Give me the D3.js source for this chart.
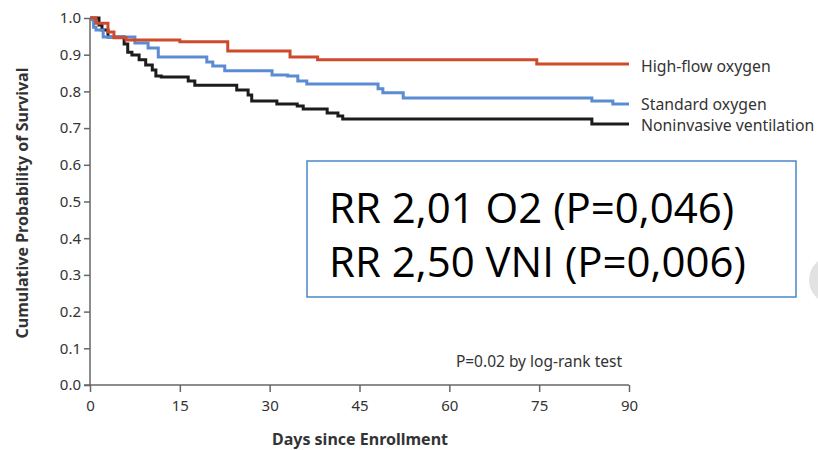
<!DOCTYPE html>
<html><head><meta charset="utf-8">
<script src="https://cdn.jsdelivr.net/npm/d3@7"></script>
<style>body{margin:0;background:#fff;overflow:hidden}</style>
</head><body><svg id="c" width="818" height="450"></svg>
<script>
const seriesNames = ["High-flow oxygen", "Standard oxygen", "Noninvasive ventilation"];
const seriesColors = ["#cf4a2c", "#5b8bd2", "#1c1c1c"];
const highFlowDays = [0, 1, 3, 4, 6, 15, 23, 33.4, 38, 74.6, 90];
const highFlowSurv = [1.0, 0.986, 0.962, 0.946, 0.94, 0.935, 0.91, 0.894, 0.886, 0.875, 0.875];
const standardDays = [0, 0.3, 0.6, 1, 2.2, 7.5, 9.7, 11.4, 19.5, 20.5, 22.5, 30.4, 33, 34.7, 36.2, 48.1, 48.9, 52.3, 83.8, 87.3, 90];
const standardSurv = [1.0, 0.995, 0.975, 0.967, 0.948, 0.932, 0.918, 0.894, 0.88, 0.869, 0.856, 0.845, 0.842, 0.828, 0.82, 0.807, 0.796, 0.782, 0.774, 0.766, 0.766];
const niVentDays = [0, 1.5, 2, 3, 5.7, 6.3, 7, 8.2, 9.3, 10.4, 11, 11.9, 16.4, 17.5, 24.5, 26.4, 27, 31.2, 34.6, 35.6, 39.6, 41.4, 42.2, 83.8, 90];
const niVentSurv = [1.0, 0.981, 0.967, 0.948, 0.929, 0.907, 0.899, 0.886, 0.872, 0.858, 0.842, 0.839, 0.828, 0.817, 0.804, 0.79, 0.774, 0.766, 0.76, 0.752, 0.741, 0.733, 0.725, 0.711, 0.711];
const xTicks = [0, 15, 30, 45, 60, 75, 90];
const yTicks = [0, 0.1, 0.2, 0.3, 0.4, 0.5, 0.6, 0.7, 0.8, 0.9, 1.0];
const noteText = "P=0.02 by log-rank test";
const boxLines = ["RR 2,01 O2 (P=0,046)", "RR 2,50 VNI (P=0,006)"];

const svg = d3.select("#c");
const x = d3.scaleLinear().domain([0, 90]).range([90, 629]);
const y = d3.scaleLinear().domain([0, 1]).range([385, 18]);
const font = "'Noto Sans', 'Open Sans', sans-serif";

// axes
const yAxis = d3.axisLeft(y).tickValues(yTicks).tickFormat(d3.format(".1f")).tickSize(6).tickPadding(3);
const gy = svg.append("g").attr("transform", "translate(90,0)").call(yAxis);
const xAxis = d3.axisBottom(x).tickValues(xTicks).tickFormat(d3.format("d")).tickSize(7).tickPadding(8);
const gx = svg.append("g").attr("transform", "translate(0,385)").call(xAxis);
[gx, gy].forEach(g => {
  g.select(".domain").attr("stroke", "#666").attr("stroke-width", 1.5);
  g.selectAll(".tick line").attr("stroke", "#666").attr("stroke-width", 1.5);
  g.selectAll(".tick text").attr("fill", "#333").style("font-family", font).style("font-size", "15px");
});
gy.select(".domain").attr("d", "M0,385V18");
gx.select(".domain").attr("d", "M84,0H629");

svg.append("text").attr("x", 360).attr("y", 445).attr("text-anchor", "middle")
  .style("font-family", font).style("font-size", "16px").style("font-weight", "bold").attr("fill", "#333")
  .text("Days since Enrollment");
svg.append("text").attr("transform", "translate(28,203) rotate(-90)").attr("text-anchor", "middle")
  .style("font-family", font).style("font-size", "16px").style("font-weight", "bold").attr("fill", "#333")
  .text("Cumulative Probability of Survival");

// curves
const line = d3.line().x(d => x(d[0])).y(d => y(d[1])).curve(d3.curveStepAfter);
const allSeries = [
  d3.zip(highFlowDays, highFlowSurv),
  d3.zip(standardDays, standardSurv),
  d3.zip(niVentDays, niVentSurv)
];
[2, 1, 0].forEach(i => {
  svg.append("path").datum(allSeries[i]).attr("d", line).attr("fill", "none")
    .attr("stroke", seriesColors[i]).attr("stroke-width", 3);
});
const labelY = [66, 104, 125];
seriesNames.forEach((n, i) => {
  svg.append("text").attr("x", 641).attr("y", labelY[i]).attr("dy", "0.35em")
    .style("font-family", font).style("font-size", "15.8px").attr("fill", "#333").text(n);
});

svg.append("text").attr("x", 622).attr("y", 367).attr("text-anchor", "end")
  .style("font-family", font).style("font-size", "15.5px").attr("fill", "#333").text(noteText);

// annotation box
svg.append("circle").attr("cx", 833).attr("cy", 280).attr("r", 24).attr("fill", "#e2e2e2");
svg.append("rect").attr("x", 307).attr("y", 161).attr("width", 489).attr("height", 136)
  .attr("fill", "#fff").attr("stroke", "#4a88c8").attr("stroke-width", 1.5);
boxLines.forEach((t, i) => {
  svg.append("text").attr("x", 329).attr("y", 223 + i * 54)
    .style("font-family", "'Open Sans', sans-serif").style("font-size", "42px").attr("fill", "#000").text(t);
});
</script></body></html>
